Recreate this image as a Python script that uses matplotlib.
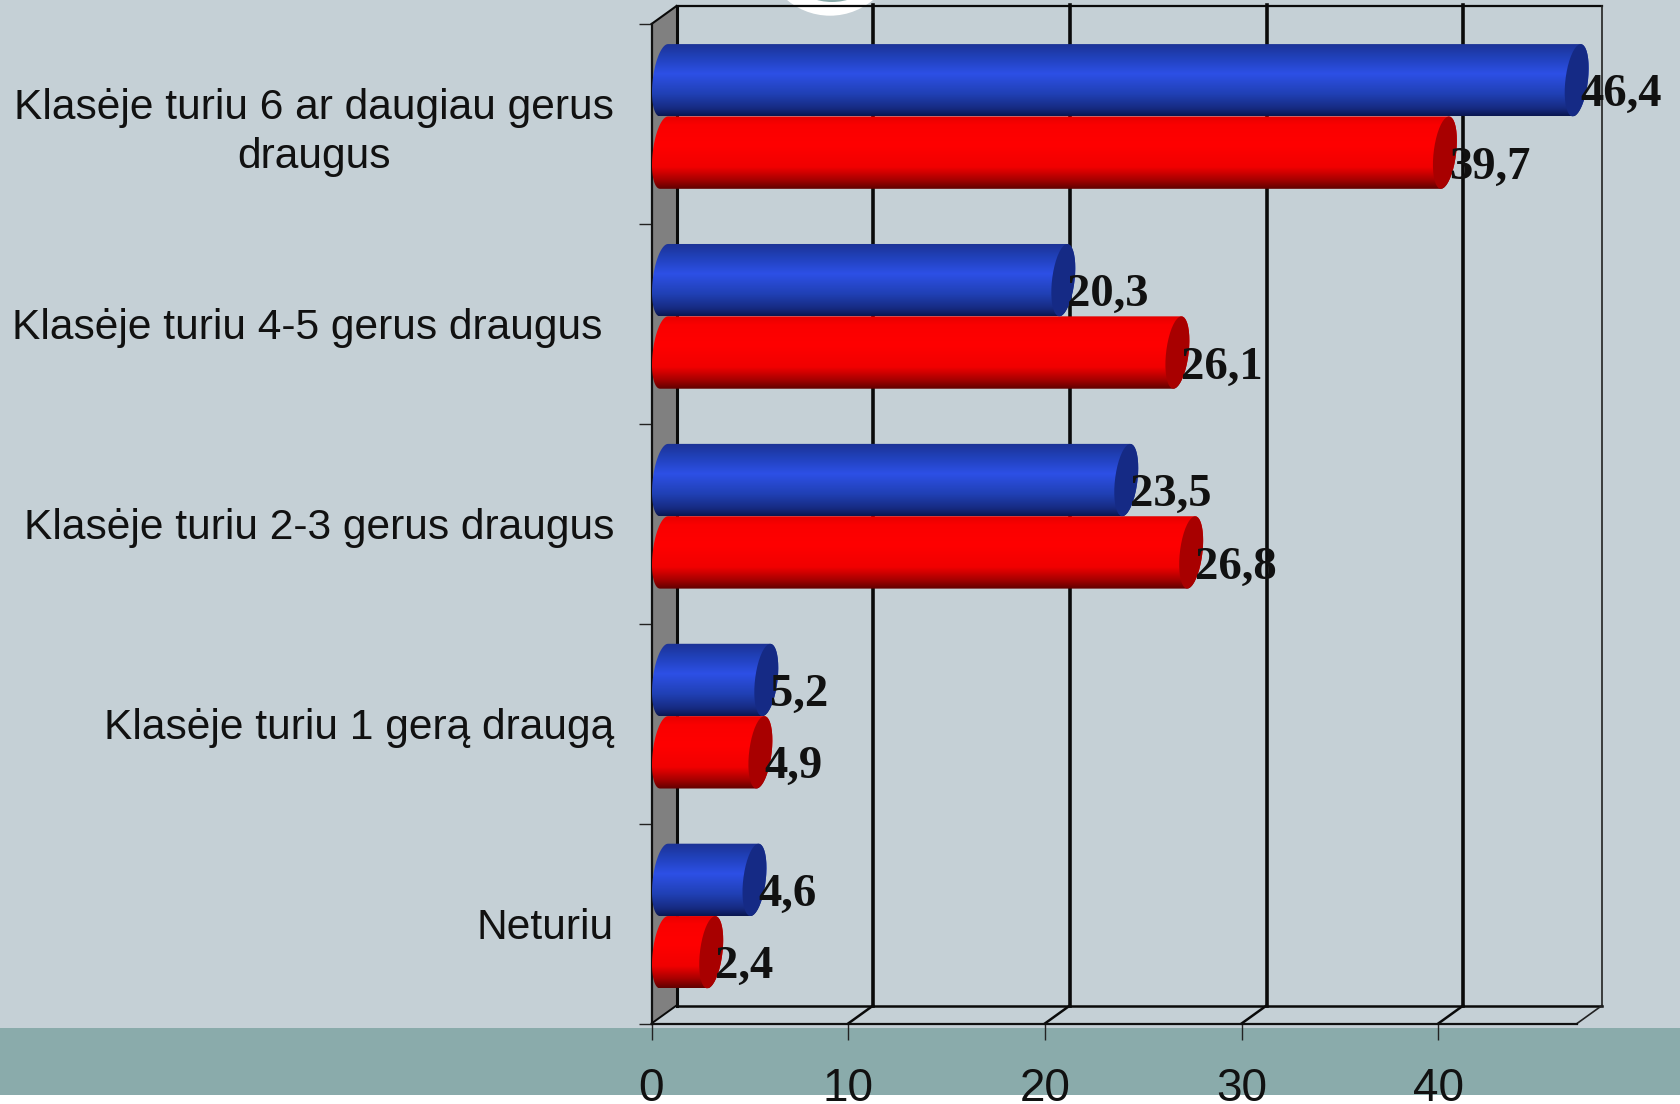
import numpy as np
import matplotlib
matplotlib.use("Agg")
import matplotlib.pyplot as plt
from matplotlib.colors import LinearSegmentedColormap
from matplotlib.patches import Rectangle, Circle, Polygon
from matplotlib.path import Path
from matplotlib.transforms import Affine2D

categories = ["Klasėje turiu 6 ar daugiau gerus\ndraugus",
              "Klasėje turiu 4-5 gerus draugus ",
              "Klasėje turiu 2-3 gerus draugus",
              "Klasėje turiu 1 gerą draugą",
              "Neturiu"]
blue_values = [46.4, 20.3, 23.5, 5.2, 4.6]
red_values = [39.7, 26.1, 26.8, 4.9, 2.4]
x_ticks = [0, 10, 20, 30, 40]

W, H = 1680, 1104
BG, BAND = "#c5d0d6", "#8aabab"
L, R, T, B = 651.5, 1577.0, 24.0, 1023.5
XMAX = (R - L) / 19.67
PX = 19.67            # px per value unit
PY = (B - T) / 5      # px per category
DX, DY = 25 / PX, 18 / PY    # back wall depth in data units
BAR = 0.362

fig = plt.figure(figsize=(W / 100, H / 100), dpi=100, facecolor="white")


def fy(y):
    return 1 - y / H


# page background
fig.patches.append(Rectangle((0, fy(1027.5)), 1, 1027.5 / H, transform=fig.transFigure, fc=BG, ec="none", zorder=-5))
fig.patches.append(Rectangle((0, fy(1095)), 1, (1095 - 1027.5) / H, transform=fig.transFigure, fc=BAND, ec="none", zorder=-5))
px = Affine2D().scale(1, -1).translate(0, H)
fig.patches.append(Circle((830, -51), 66.7, transform=px, fc="white", ec="none", zorder=-4))
fig.patches.append(Circle((832, -55), 57, transform=px, fc=BAND, ec="none", zorder=-3))

ax = fig.add_axes([L / W, 1 - B / H, (R - L) / W, (B - T) / H])
ax.patch.set_visible(False)
ax.set_xlim(0, XMAX)
ax.set_ylim(5, 0)
for s in ("top", "right"):
    ax.spines[s].set_visible(False)
for s in ("left", "bottom"):
    ax.spines[s].set_linewidth(1.6)
    ax.spines[s].set_color("#111111")
    ax.spines[s].set_zorder(2)

ax.set_xticks(x_ticks)
ax.set_xticklabels([str(v) for v in x_ticks], family="Liberation Sans", fontsize=33, color="#111111")
ax.tick_params(axis="x", length=11.5, width=1.0, pad=20, color="#222222")
ax.set_yticks(range(6))
ax.set_yticklabels([])
ax.tick_params(axis="y", which="major", length=9.5, width=1.0, color="#222222")
ax.set_yticks([i + 0.5 for i in range(5)], minor=True)
ax.set_yticklabels(categories, minor=True, family="Liberation Sans", fontsize=30.6, color="#111111",
                   multialignment="center", linespacing=1.27)
ax.tick_params(axis="y", which="minor", length=0, pad=27)

# 3D frame
ax.add_patch(Polygon([(0, 5), (DX, 5 - DY), (DX, -DY), (0, 0)], fc="#808080", ec="none", clip_on=False, zorder=1))
kw = dict(color="#0a0a0a", clip_on=False, solid_capstyle="projecting")
ax.plot([DX, XMAX + DX], [-DY, -DY], lw=1.6, zorder=1.5, **kw)
ax.plot([DX, XMAX + DX], [5 - DY, 5 - DY], lw=1.8, zorder=1.5, **kw)
ax.plot([XMAX + DX, XMAX + DX], [-DY, 5 - DY], lw=1.2, zorder=1.5, color="#222222", clip_on=False)
ax.plot([XMAX, XMAX + DX], [5, 5 - DY], lw=1.2, zorder=1.5, color="#222222", clip_on=False)
ax.plot([0, DX], [0, -DY], lw=1.5, zorder=1.5, **kw)
ax.plot([DX, DX], [-DY, 5 - DY], lw=2.2, zorder=1.5, **kw)
for v in x_ticks:
    ax.plot([v, v + DX], [5, 5 - DY], lw=1.8 if v else 1.4, zorder=1.5, **kw)
    if v:
        ax.plot([v + DX, v + DX], [-DY - 0.005, 5 - DY], lw=2.6, zorder=1.6, **kw)

blue_cmap = LinearSegmentedColormap.from_list("b", [(0, "#1c3294"), (0.18, "#2040b8"), (0.42, "#2d50e6"),
                                                    (0.7, "#2040b4"), (0.9, "#162a80"), (1, "#0a1650")])
red_cmap = LinearSegmentedColormap.from_list("r", [(0, "#e60000"), (0.12, "#fa0000"), (0.4, "#ff0000"),
                                                   (0.7, "#f00000"), (0.87, "#a80000"), (1, "#600000")])
grad = np.linspace(0, 1, 256)[:, None]
A, S = 11.3 / PX, 4 / PX


def arc(c, yc, t0, t1):
    t = np.radians(np.linspace(t0, t1, 40))
    return np.column_stack([c + A * np.cos(t) + S * np.sin(t), yc - BAR / 2 * np.sin(t)])


def cylinder(value, y0, cmap, cap, z):
    yc = y0 + BAR / 2
    c0, c1 = DX / 2, value + DX / 2
    verts = np.vstack([arc(c0, yc, 90, 270), arc(c1, yc, 270, 450)])
    path = Path(np.vstack([verts, verts[:1]]), closed=True)
    im = ax.imshow(grad, cmap=cmap, aspect="auto", extent=(0, value + 2, y0 + BAR, y0),
                   interpolation="bilinear", zorder=z)
    im.set_clip_box(fig.bbox)
    im.set_clip_path(path, transform=ax.transData)
    ell = arc(c1, yc, 0, 360)
    ax.add_patch(Polygon(ell, fc=cap, ec="none", clip_on=False, zorder=z + 0.01))


for i, (b, r) in enumerate(zip(blue_values, red_values)):
    mid = i + 0.5 - DY / 2 + 1.5 / PY
    cylinder(r, mid, red_cmap, "#a80000", 3 + i * 0.1)
    cylinder(b, mid - BAR, blue_cmap, "#152a85", 3.05 + i * 0.1)
    for v, yb in ((b, mid - BAR / 2), (r, mid + BAR / 2)):
        ax.annotate(f"{v:.1f}".replace(".", ","), (v, yb), xytext=(16.5 * 0.72, -15 * 0.72),
                    textcoords="offset points", family="Liberation Serif", fontweight="bold",
                    fontsize=33.6, color="#111111", va="center", ha="left", zorder=6, annotation_clip=False)

ax.set_xlim(0, XMAX)
ax.set_ylim(5, 0)
fig.savefig("out.png", dpi=100, facecolor="white")
